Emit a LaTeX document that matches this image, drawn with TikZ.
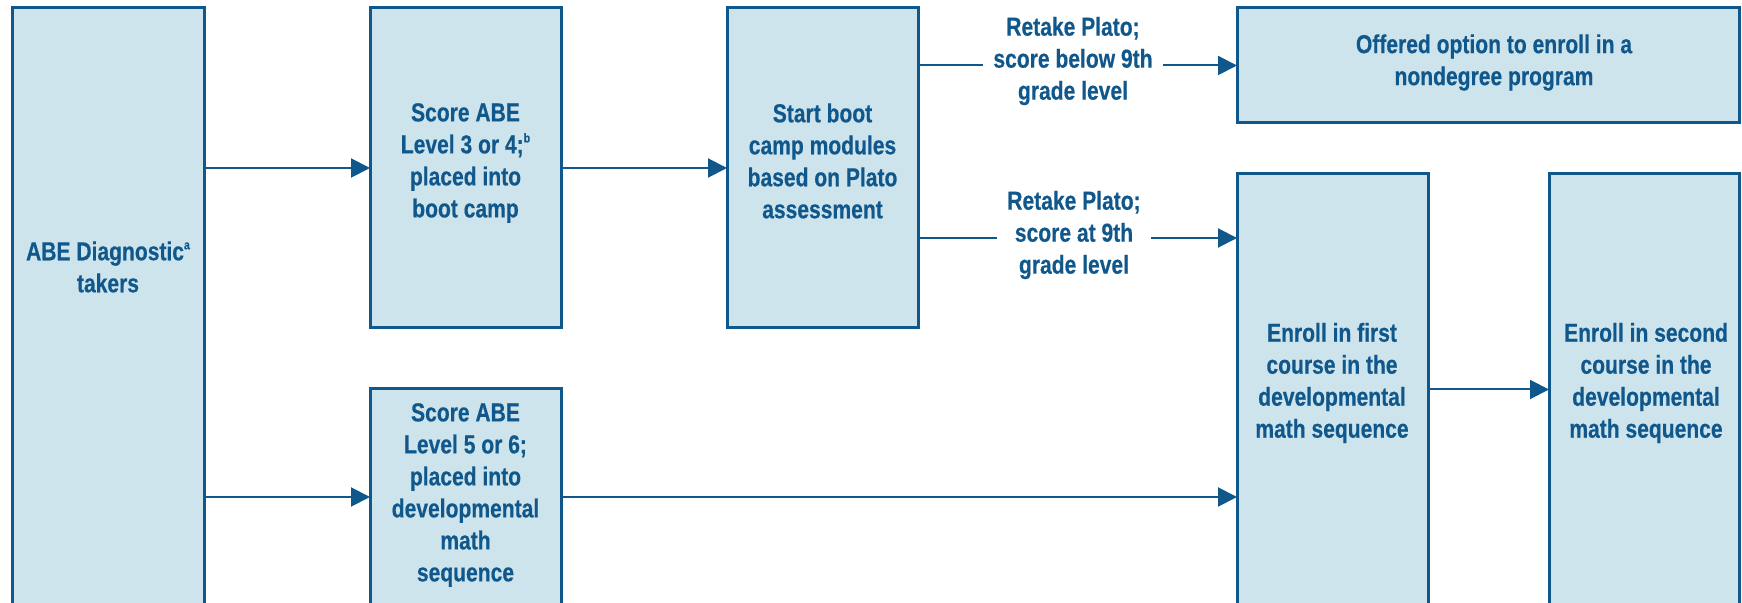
\documentclass[tikz,border=0pt]{standalone}
\usepackage{fontspec}
\setmainfont{Liberation Sans}[FakeStretch=0.81, BoldFeatures={FakeBold=0.4}]
\usetikzlibrary{arrows.meta}
\definecolor{navy}{RGB}{16,88,140}
\definecolor{pale}{RGB}{205,228,237}
\newcommand{\notemark}[1]{\raisebox{0.42em}{\fontsize{6.5}{6.5}\selectfont #1}}
\begin{document}
\begin{tikzpicture}[x=0.5pt,y=-0.5pt,
  box/.style={draw=navy, fill=pale, line width=1.5pt, inner sep=0pt, outer sep=0pt},
  txt/.style={text=navy, font=\fontsize{13}{16}\selectfont\bfseries, align=center, inner sep=0pt},
  cond/.style={txt, inner xsep=5pt},
  line/.style={draw=navy, line width=1pt},
  link/.style={line, -{Triangle[length=9.5pt,width=9.5pt]}}]
\useasboundingbox (0,0) rectangle (1742,603);
\clip (0,0) rectangle (1742,603);

% boxes (lower ones run past the bottom edge)
\node[box, minimum width=96pt,   minimum height=298.5pt] (abe)  at (108,306.5)   {};
\node[box, minimum width=95.5pt, minimum height=160pt]   (s34)  at (465.5,168)   {};
\node[box, minimum width=95.5pt, minimum height=108pt]   (s56)  at (465.5,497)   {};
\node[box, minimum width=95.5pt, minimum height=160pt]   (boot) at (822.5,168)   {};
\node[box, minimum width=251pt,  minimum height=57.5pt]  (off)  at (1488,65.5)   {};
\node[box, minimum width=95.5pt, minimum height=215.5pt] (e1)   at (1332.5,389.5) {};
\node[box, minimum width=95pt,   minimum height=215.5pt] (e2)   at (1644,389.5)  {};

% box texts
\node[txt] (abeT)  at (108,267)   {ABE Diagnostic\notemark{a}\\takers};
\node[txt] (s34T)  at (465.5,163) {Score ABE\\Level 3 or 4;\notemark{b}\\placed into\\boot camp};
\node[txt] (s56T)  at (465.5,495) {Score ABE\\Level 5 or 6;\\placed into\\developmental\\math\\sequence};
\node[txt] (bootT) at (822.5,161) {Start boot\\camp modules\\based on Plato\\assessment};
\node[txt] (offT)  at (1494,62.5) {Offered option to enroll in a\\nondegree program};
\node[txt] (e1T)   at (1332,383)  {Enroll in first\\course in the\\developmental\\math sequence};
\node[txt] (e2T)   at (1646,383)  {Enroll in second\\course in the\\developmental\\math sequence};

% condition labels on the boot camp exits
\node[cond] (below9) at (1073,61)  {Retake Plato;\\score below 9th\\grade level};
\node[cond] (at9)    at (1074,235) {Retake Plato;\\score at 9th\\grade level};
\coordinate (lvl9) at (0,238);

% connectors
\draw[link] (abe.east |- s34.west) -- (s34.west);
\draw[link] (abe.east |- s56.west) -- (s56.west);
\draw[link] (s34.east) -- (boot.west);
\draw[link] (s56.east) -- (s56.east -| e1.west);
\draw[link] (e1.east |- e2.west) -- (e2.west);
\draw[line] (boot.east |- off.west) -- (below9.west |- off.west);
\draw[link] (below9.east |- off.west) -- (off.west);
\draw[line] (boot.east |- lvl9) -- (at9.west |- lvl9);
\draw[link] (at9.east |- lvl9) -- (e1.west |- lvl9);
\end{tikzpicture}
\end{document}
